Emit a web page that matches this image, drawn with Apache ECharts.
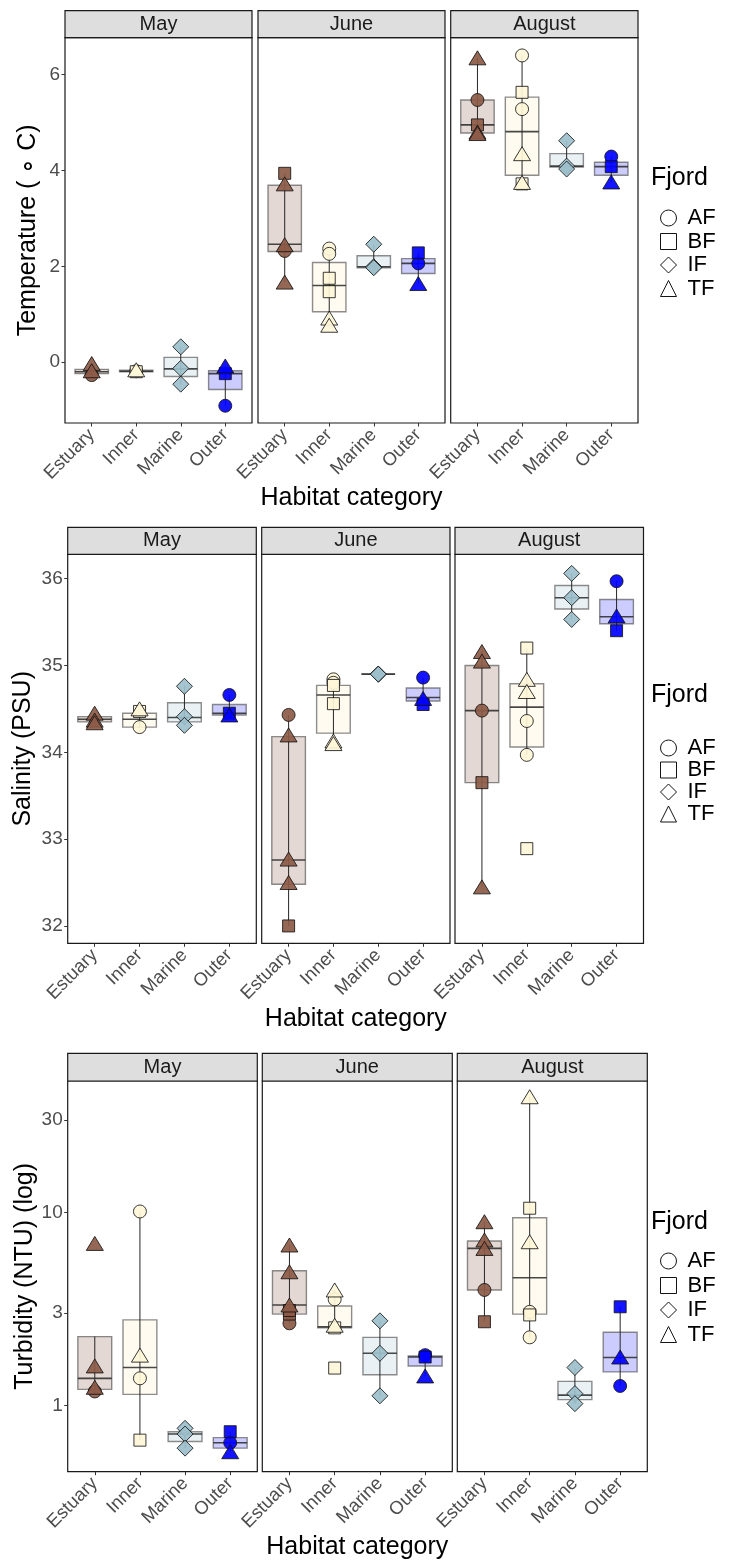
<!DOCTYPE html>
<html><head><meta charset="utf-8">
<script src="https://cdn.jsdelivr.net/npm/echarts@6/dist/echarts.min.js"></script>
<style>html,body{margin:0;padding:0;background:#fff}#c{width:730px;height:1560px}</style>
</head><body><div id="c"></div>
<script>
// ---------------- DATA ----------------
const months = ['May', 'June', 'August'];
const habitats = ['Estuary', 'Inner', 'Marine', 'Outer'];
const fjords = ['AF', 'BF', 'IF', 'TF'];

// points: [monthIndex, habitatIndex, fjord, value]
const temperaturePoints = [
  [0,0,'AF',-0.27],[0,0,'TF',-0.03],[0,0,'TF',-0.18],
  [0,1,'AF',-0.19],[0,1,'BF',-0.2],[0,1,'TF',-0.16],
  [0,2,'IF',0.32],[0,2,'IF',-0.13],[0,2,'IF',-0.46],
  [0,3,'AF',-0.91],[0,3,'BF',-0.24],[0,3,'TF',-0.08],
  [1,0,'BF',3.94],[1,0,'TF',3.72],[1,0,'TF',2.45],[1,0,'AF',2.32],[1,0,'TF',1.67],
  [1,1,'AF',2.37],[1,1,'AF',2.26],[1,1,'BF',1.75],[1,1,'BF',1.47],[1,1,'TF',0.92],[1,1,'TF',0.77],
  [1,2,'IF',2.46],[1,2,'IF',1.99],[1,2,'IF',1.97],
  [1,3,'BF',2.28],[1,3,'AF',2.06],[1,3,'TF',1.64],
  [2,0,'TF',6.35],[2,0,'AF',5.47],[2,0,'BF',4.95],[2,0,'TF',4.8],[2,0,'TF',4.77],
  [2,1,'AF',6.4],[2,1,'BF',5.63],[2,1,'AF',5.28],[2,1,'TF',4.35],[2,1,'TF',3.75],[2,1,'BF',3.72],
  [2,2,'IF',4.62],[2,2,'IF',4.09],[2,2,'IF',4.03],
  [2,3,'AF',4.29],[2,3,'BF',4.08],[2,3,'TF',3.76]
];
// boxes: [monthIndex, habitatIndex, lower, Q1, median, Q3, upper]
const temperatureBoxes = [
  [0,0,-0.27,-0.24,-0.2,-0.15,-0.03],[0,1,-0.2,-0.2,-0.19,-0.17,-0.16],
  [0,2,-0.46,-0.3,-0.14,0.1,0.32],[0,3,-0.91,-0.57,-0.24,-0.18,-0.08],
  [1,0,1.67,2.31,2.46,3.69,3.94],[1,1,0.77,1.05,1.6,2.08,2.37],
  [1,2,1.97,1.97,1.99,2.22,2.46],[1,3,1.64,1.85,2.06,2.16,2.28],
  [2,0,4.77,4.78,4.95,5.47,6.35],[2,1,3.72,3.9,4.81,5.53,6.4],
  [2,2,4.03,4.07,4.09,4.35,4.62],[2,3,3.76,3.9,4.08,4.17,4.29]
];
const temperatureTicks = [0, 2, 4, 6];

const salinityPoints = [
  [0,0,'TF',34.45],[0,0,'TF',34.37],[0,0,'TF',34.34],
  [0,1,'TF',34.5],[0,1,'BF',34.47],[0,1,'AF',34.29],
  [0,2,'IF',34.76],[0,2,'IF',34.41],[0,2,'IF',34.31],
  [0,3,'AF',34.66],[0,3,'BF',34.45],[0,3,'TF',34.43],
  [1,0,'AF',34.43],[1,0,'TF',34.2],[1,0,'TF',32.77],[1,0,'TF',32.5],[1,0,'BF',32.0],
  [1,1,'AF',34.84],[1,1,'AF',34.8],[1,1,'BF',34.77],[1,1,'BF',34.56],[1,1,'TF',34.13],[1,1,'TF',34.1],
  [1,2,'IF',34.9],[1,2,'IF',34.9],[1,2,'IF',34.9],
  [1,3,'AF',34.86],[1,3,'TF',34.62],[1,3,'BF',34.55],
  [2,0,'TF',35.16],[2,0,'TF',35.05],[2,0,'AF',34.48],[2,0,'BF',33.65],[2,0,'TF',32.45],
  [2,1,'BF',35.2],[2,1,'TF',34.84],[2,1,'TF',34.7],[2,1,'AF',34.36],[2,1,'AF',33.97],[2,1,'BF',32.89],
  [2,2,'IF',36.06],[2,2,'IF',35.78],[2,2,'IF',35.53],
  [2,3,'AF',35.97],[2,3,'TF',35.57],[2,3,'BF',35.4]
];
const salinityBoxes = [
  [0,0,34.34,34.35,34.38,34.41,34.45],[0,1,34.28,34.29,34.38,34.45,34.5],
  [0,2,34.31,34.35,34.40,34.57,34.76],[0,3,34.43,34.43,34.45,34.55,34.66],
  [1,0,32.0,32.48,32.76,34.18,34.43],[1,1,34.1,34.22,34.66,34.77,34.84],
  [1,2,34.9,34.9,34.9,34.9,34.9],[1,3,34.55,34.59,34.63,34.74,34.86],
  [2,0,32.45,33.65,34.48,35.0,35.16],[2,1,33.97,34.06,34.52,34.79,35.2],
  [2,2,35.53,35.65,35.78,35.92,36.06],[2,3,35.4,35.48,35.56,35.76,35.97]
];
const salinityTicks = [32, 33, 34, 35, 36];

const turbidityPoints = [
  [0,0,'AF',1.18],[0,0,'TF',1.24],[0,0,'TF',1.6],[0,0,'TF',6.9],
  [0,1,'AF',10.1],[0,1,'TF',1.82],[0,1,'AF',1.38],[0,1,'BF',0.66],
  [0,2,'IF',0.76],[0,2,'IF',0.71],[0,2,'IF',0.6],
  [0,3,'BF',0.73],[0,3,'AF',0.64],[0,3,'TF',0.575],
  [1,0,'AF',2.66],[1,0,'BF',2.97],[1,0,'BF',3.1],[1,0,'TF',3.31],[1,0,'TF',4.92],[1,0,'TF',6.77],
  [1,1,'TF',3.96],[1,1,'AF',3.54],[1,1,'TF',2.6],[1,1,'BF',2.52],[1,1,'BF',1.56],
  [1,2,'IF',2.74],[1,2,'IF',1.86],[1,2,'IF',1.12],
  [1,3,'AF',1.82],[1,3,'BF',1.78],[1,3,'TF',1.42],
  [2,0,'TF',8.94],[2,0,'TF',7.19],[2,0,'TF',6.5],[2,0,'AF',3.96],[2,0,'BF',2.71],
  [2,1,'TF',39.7],[2,1,'BF',10.5],[2,1,'TF',7.04],[2,1,'AF',3.05],[2,1,'BF',2.94],[2,1,'AF',2.25],
  [2,2,'IF',1.57],[2,2,'IF',1.15],[2,2,'IF',1.02],
  [2,3,'BF',3.24],[2,3,'TF',1.78],[2,3,'AF',1.26]
];
const turbidityBoxes = [
  [0,0,1.18,1.21,1.38,2.27,2.27],[0,1,0.66,1.14,1.57,2.77,10.1],
  [0,2,0.6,0.65,0.71,0.73,0.76],[0,3,0.575,0.6,0.64,0.68,0.73],
  [1,0,2.66,2.97,3.31,4.98,6.77],[1,1,2.52,2.52,2.55,3.27,3.96],
  [1,2,1.12,1.44,1.86,2.25,2.74],[1,3,1.42,1.6,1.78,1.8,1.82],
  [2,0,2.71,3.96,6.5,7.1,8.94],[2,1,2.25,2.97,4.58,9.38,39.7],
  [2,2,1.02,1.07,1.13,1.33,1.57],[2,3,1.26,1.49,1.77,2.39,3.24]
];
const turbidityTicks = [1, 3, 10, 30];

// ---------------- STYLE / LAYOUT ----------------
const FONT = 'Liberation Sans, Arial, Helvetica, sans-serif';
const pointColors = ['#8C5A47', '#FFF6D8', '#9CBFCB', '#0000FF'];
const boxFills = ['rgba(140,90,71,0.24)', 'rgba(255,240,200,0.25)', 'rgba(156,191,203,0.22)', 'rgba(0,0,255,0.2)'];
const fjordSymbols = { AF: 'circle', BF: 'rect', IF: 'diamond', TF: 'triangle' };
const fjordSizes = { AF: 13, BF: 12, IF: 16, TF: [17, 14] };

const rows = [
  { stripTop: 10.7, top: 37.7, bottom: 423, xs: [[65, 252], [258, 445], [450.7, 638]],
    points: temperaturePoints, boxes: temperatureBoxes, ticks: temperatureTicks,
    type: 'value', min: -1.27, max: 6.77, yName: 'Temperature ( \u2218 C)', yNameGap: 24, xNameGap: 63,
    legendTitleY: 178, legendTop: 202, legendGap: 1.5 },
  { stripTop: 527.3, top: 554.3, bottom: 943.3, xs: [[67.7, 256.3], [261.7, 450], [455, 643.5]],
    points: salinityPoints, boxes: salinityBoxes, ticks: salinityTicks,
    type: 'value', min: 31.8, max: 36.28, yName: 'Salinity (PSU)', yNameGap: 32, xNameGap: 63,
    legendTitleY: 695, legendTop: 732, legendGap: 0 },
  { stripTop: 1053.3, top: 1081, bottom: 1471.7, xs: [[67.7, 257.3], [262.3, 452.3], [457.3, 647.3]],
    points: turbidityPoints, boxes: turbidityBoxes, ticks: turbidityTicks,
    type: 'log', min: 0.453, max: 47.9, yName: 'Turbidity (NTU) (log)', yNameGap: 30, xNameGap: 62,
    legendTitleY: 1222, legendTop: 1245, legendGap: 2.5 }
];

function renderBox(params, api) {
  const x = api.value(0);
  const lo = api.coord([x, api.value(1)]);
  const q1 = api.coord([x, api.value(2)]);
  const md = api.coord([x, api.value(3)]);
  const q3 = api.coord([x, api.value(4)]);
  const hi = api.coord([x, api.value(5)]);
  const edge = api.coord([x + 0.375, api.value(3)]);
  const hw = edge[0] - md[0];
  return {
    type: 'group',
    children: [
      { type: 'rect', shape: { x: md[0] - hw, y: q3[1], width: 2 * hw, height: q1[1] - q3[1] },
        style: { fill: boxFills[x], stroke: 'rgba(80,80,80,0.65)', lineWidth: 1.4 } },
      { type: 'line', shape: { x1: lo[0], y1: lo[1], x2: hi[0], y2: hi[1] },
        style: { stroke: '#262626', lineWidth: 1 } },
      { type: 'line', shape: { x1: md[0] - hw, y1: md[1], x2: md[0] + hw, y2: md[1] },
        style: { stroke: 'rgba(40,40,40,0.85)', lineWidth: 1.6 } }
    ]
  };
}

const option = {
  animation: false,
  backgroundColor: '#fff',
  textStyle: { fontFamily: FONT },
  grid: [], xAxis: [], yAxis: [], series: [], legend: [], graphic: []
};

rows.forEach((row, r) => {
  months.forEach((month, m) => {
    const gi = r * 3 + m;
    const [x0, x1] = row.xs[m];
    option.grid.push({
      left: x0, top: row.top, width: x1 - x0, height: row.bottom - row.top,
      show: true, borderColor: '#1a1a1a', borderWidth: 1.2, backgroundColor: '#fff',
      containLabel: false, outerBoundsMode: 'none'
    });
    option.xAxis.push({
      gridIndex: gi, type: 'value', min: -0.6, max: 3.6, position: 'bottom',
      axisLine: { show: false, onZero: false },
      axisTick: { show: true, length: 3.5, lineStyle: { color: '#333', width: 1 }, customValues: [0, 1, 2, 3] },
      axisLabel: { customValues: [0, 1, 2, 3], formatter: v => habitats[Math.round(v)], rotate: 45,
        fontSize: 18.5, color: '#4D4D4D', margin: 9, fontFamily: FONT },
      splitLine: { show: false },
      name: m === 1 ? 'Habitat category' : '', nameLocation: 'middle', nameGap: row.xNameGap,
      nameTextStyle: { fontSize: 25, color: '#000', fontFamily: FONT }
    });
    option.yAxis.push({
      gridIndex: gi, type: row.type, min: row.min, max: row.max, position: 'left',
      axisLine: { show: false, onZero: false },
      axisTick: { show: m === 0, length: 3.5, lineStyle: { color: '#333', width: 1 }, customValues: row.ticks },
      axisLabel: { show: m === 0, customValues: row.ticks, formatter: v => String(v),
        fontSize: 19, color: '#4D4D4D', margin: 5, fontFamily: FONT },
      splitLine: { show: false },
      name: m === 0 ? row.yName : '', nameLocation: 'middle', nameGap: row.yNameGap,
      nameTextStyle: { fontSize: 25, color: '#000', fontFamily: FONT }
    });
    option.series.push({
      type: 'custom', xAxisIndex: gi, yAxisIndex: gi, silent: true, z: 2,
      renderItem: renderBox, encode: { x: 0, y: [1, 2, 3, 4, 5] },
      data: row.boxes.filter(b => b[0] === m).map(b => b.slice(1))
    });
    fjords.forEach(f => {
      option.series.push({
        type: 'scatter', name: f, xAxisIndex: gi, yAxisIndex: gi, z: 3, silent: true,
        symbol: fjordSymbols[f], symbolSize: fjordSizes[f],
        itemStyle: { color: p => pointColors[p.value[0]], borderColor: '#111', borderWidth: 0.9, opacity: 0.92 },
        data: row.points.filter(p => p[0] === m && p[2] === f).map(p => [p[1], p[3]])
      });
    });
    // facet strip
    option.graphic.push({
      type: 'group', silent: true,
      children: [
        { type: 'rect', shape: { x: x0, y: row.stripTop, width: x1 - x0, height: row.top - row.stripTop },
          style: { fill: '#DEDEDE', stroke: '#1a1a1a', lineWidth: 1.2 } },
        { type: 'text', x: (x0 + x1) / 2, y: (row.stripTop + row.top) / 2,
          style: { text: month, fontSize: 20, fill: '#1A1A1A', fontFamily: FONT, align: 'center', verticalAlign: 'middle' } }
      ]
    });
  });
  option.graphic.push({
    type: 'text', x: 651, y: row.legendTitleY, silent: true,
    style: { text: 'Fjord', fontSize: 25, fill: '#000', fontFamily: FONT, align: 'left', verticalAlign: 'middle' }
  });
  option.legend.push({
    orient: 'vertical', left: 655, top: row.legendTop, itemWidth: 16, itemHeight: 16,
    itemGap: row.legendGap, selectedMode: false,
    textStyle: { fontSize: 22, color: '#000', fontFamily: FONT, padding: [0, 0, 0, 6] },
    data: fjords.map(f => ({ name: f, icon: fjordSymbols[f],
      itemStyle: { color: '#fff', borderColor: '#000', borderWidth: 1 } }))
  });
});

const chart = echarts.init(document.getElementById('c'), null, { renderer: 'canvas' });
chart.setOption(option);
</script>
</body></html>
